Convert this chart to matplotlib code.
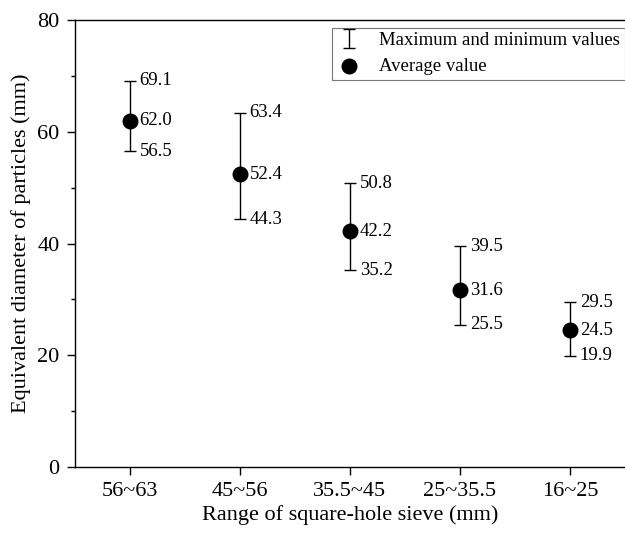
import matplotlib
matplotlib.use("Agg")
import matplotlib.pyplot as plt
import numpy as np
from matplotlib.ticker import MultipleLocator

categories = ["56~63", "45~56", "35.5~45", "25~35.5", "16~25"]
avg_vals = [62.0, 52.4, 42.2, 31.6, 24.5]
max_vals = [69.1, 63.4, 50.8, 39.5, 29.5]
min_vals = [56.5, 44.3, 35.2, 25.5, 19.9]
yticks = [0, 20, 40, 60, 80]

plt.rcParams['font.family'] = ['Liberation Serif', 'DejaVu Serif']

fig = plt.figure(figsize=(6.25, 5.33), dpi=100)
ax = fig.add_axes([0.12, 0.1238, 0.88, 0.8387])

x = np.arange(len(categories))
avg = np.array(avg_vals)
lo = avg - np.array(min_vals)
hi = np.array(max_vals) - avg

eb = ax.errorbar(x, avg, yerr=[lo, hi], fmt='none', ecolor='black', elinewidth=1.0,
                 capsize=4, capthick=1.0, label='Maximum and minimum values', zorder=2)
sc = ax.scatter(x, avg, s=110, color='black', zorder=3, label='Average value')

for xi, a, mx, mn in zip(x, avg_vals, max_vals, min_vals):
    for v in (a, mx, mn):
        ax.annotate(f"{v:.1f}", (xi, v), xytext=(7, 0), textcoords='offset points',
                    ha='left', va='center', fontsize=13.5)

ax.set_xlim(-0.5, 4.5)
ax.set_ylim(0, 80)
ax.set_xticks(x)
ax.set_xticklabels(categories)
ax.set_yticks(yticks)
ax.yaxis.set_minor_locator(MultipleLocator(10))
ax.tick_params(axis='both', which='major', direction='out', length=6, width=1.0,
               labelsize=16, pad=5)
ax.tick_params(axis='y', which='minor', direction='out', length=3, width=1.0)
for s in ax.spines.values():
    s.set_linewidth(1.0)
ax.spines['right'].set_visible(False)

ax.set_xlabel("Range of square-hole sieve (mm)", fontsize=16, labelpad=3)
ax.set_ylabel("Equivalent diameter of particles (mm)", fontsize=16, labelpad=5)

leg = ax.legend(handles=[eb, sc], loc='upper right', bbox_to_anchor=(1.0, 0.983),
                fontsize=13.5, frameon=True, fancybox=False, edgecolor='#555555',
                borderpad=0.25, handlelength=1.3, handletextpad=1.0, labelspacing=0.45,
                borderaxespad=0.0, markerscale=1.0)
leg.get_frame().set_linewidth(0.8)

fig.savefig("out.png", dpi=100)
